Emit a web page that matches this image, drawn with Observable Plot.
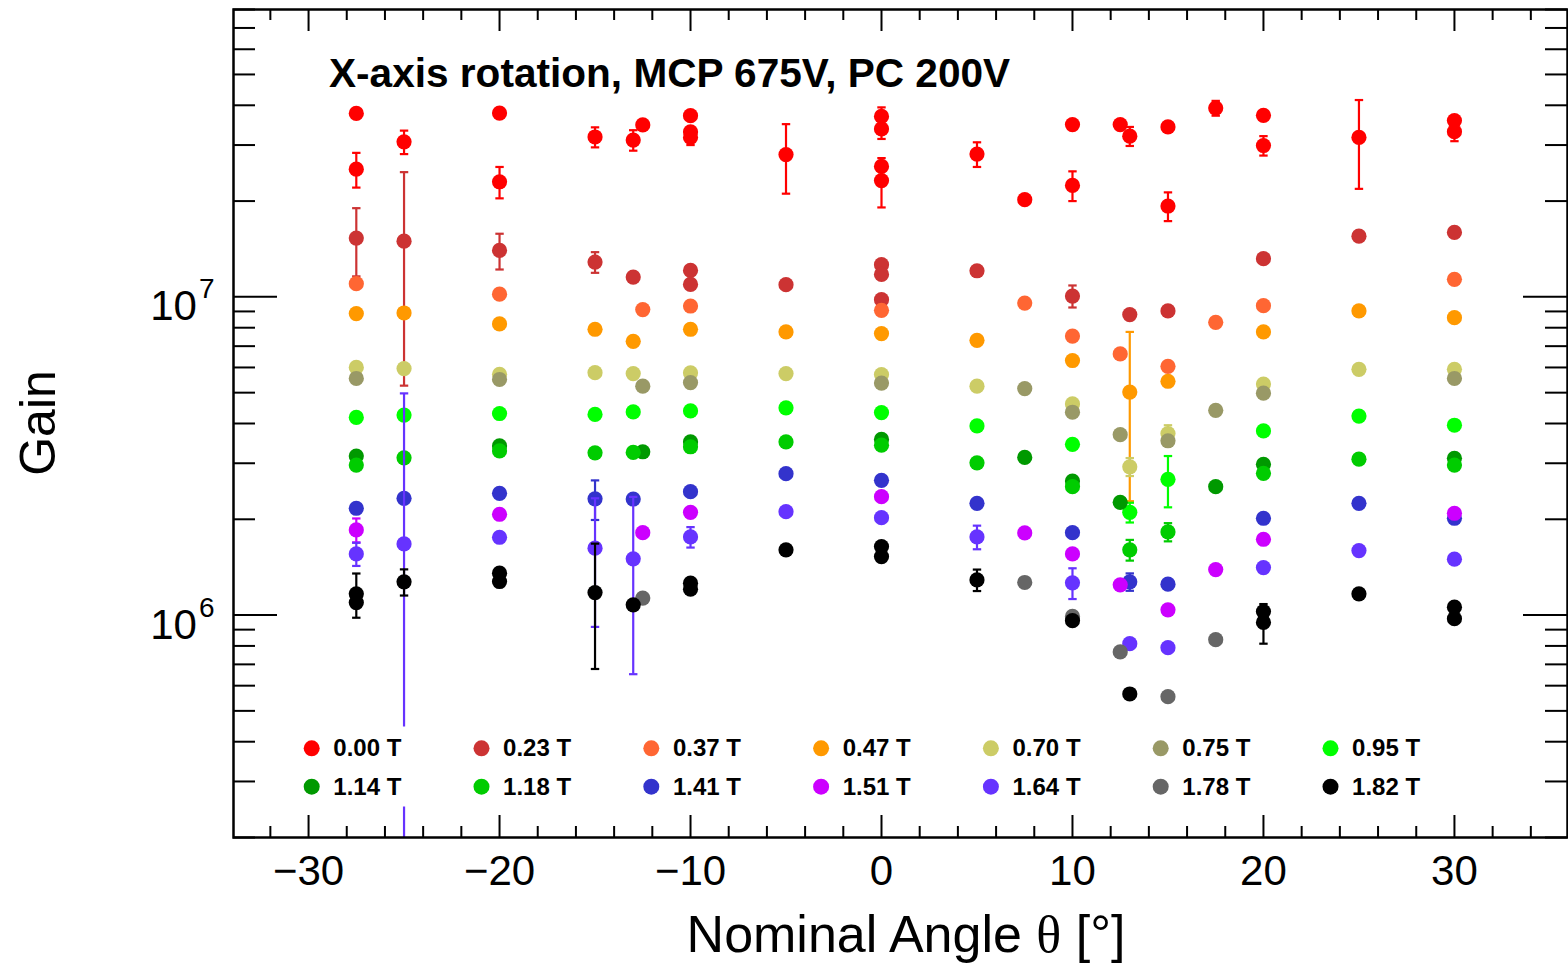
<!DOCTYPE html>
<html><head><meta charset="utf-8">
<script src="https://cdn.jsdelivr.net/npm/d3@7"></script>
<script src="https://cdn.jsdelivr.net/npm/@observablehq/plot@0.6"></script>
<style>html,body{margin:0;padding:0;background:#fff;overflow:hidden}</style>
</head><body><div id="chart"></div>
<script>
// ---------- data ----------
const fieldLabels = ["0.00 T","0.23 T","0.37 T","0.47 T","0.70 T","0.75 T","0.95 T",
                     "1.14 T","1.18 T","1.41 T","1.51 T","1.64 T","1.78 T","1.82 T"];
const fieldColors = ["#ff0000","#cc3333","#ff6633","#ff9900","#cccc66","#999966","#00ff00",
                     "#009900","#00cc00","#3333cc","#cc00ff","#6633ff","#666666","#000000"];
// each entry: [nominal angle (deg), gain (x10^6), error (x10^6)]
const g000 = [[-27.5,37.7,0],[-27.5,25.2,3.15],[-25,30.7,2.6],[-20,37.8,0],[-20,23.0,2.6],[-15,31.8,2.3],
  [-13,31.1,2.3],[-12.5,34.7,0],[-10,37.1,0],[-10,33.0,0],[-10,31.7,1.7],[-5,28.0,6.9],[0,36.9,2.5],
  [0,33.7,2.35],[0,25.7,0],[0,23.2,4.1],[5,28.1,2.5],[7.5,20.2,0],[10,34.8,0],[10,22.4,2.4],[12.5,34.8,0],
  [13,32.0,2.2],[15,34.2,0],[15,19.3,2.0],[17.5,39.2,2.1],[20,37.2,0],[20,29.9,2.1],[25,31.7,9.85],
  [30,35.8,0],[30,33.05,2.2]];
const g023 = [[-27.5,15.3,3.7],[-25,14.96,9.7],[-20,13.99,1.8],[-15,12.86,0.96],[-13,11.54,0],[-10,12.11,0],
  [-10,10.94,0],[-5,10.92,0],[0,12.62,0],[0,11.76,0],[0,9.80,0],[5,12.08,0],[10,10.06,0.8],[13,8.80,0],
  [15,9.03,0],[20,13.18,0],[25,15.51,0],[30,15.94,0]];
const g037 = [[-27.5,11.0,0],[-20,10.2,0],[-12.5,9.12,0],[-10,9.36,0],[0,9.07,0],[7.5,9.56,0],[10,7.53,0],
  [12.5,6.62,0],[15,6.05,0],[17.5,8.32,0],[20,9.38,0],[30,11.35,0]];
const g047 = [[-27.5,8.86,0],[-25,8.9,0],[-20,8.22,0],[-15,7.91,0],[-13,7.25,0],[-10,7.91,0],[-5,7.76,0],
  [0,7.67,0],[5,7.3,0],[10,6.31,0],[13,5.02,2.74],[15,5.43,0],[20,7.76,0],[25,9.03,0],[30,8.6,0]];
const g070 = [[-27.5,6.0,0],[-25,5.95,0],[-20,5.71,0],[-15,5.78,0],[-13,5.74,0],[-10,5.77,0],[-5,5.74,0],
  [0,5.70,0],[5,5.24,0],[10,4.61,0],[13,2.925,0.19],[15,3.72,0.23],[20,5.32,0],[25,5.92,0],[30,5.92,0]];
const g075 = [[-27.5,5.54,0],[-20,5.5,0],[-12.5,5.24,0],[-10,5.38,0],[0,5.36,0],[7.5,5.15,0],[10,4.34,0],
  [12.5,3.69,0],[15,3.53,0],[17.5,4.4,0],[20,4.98,0],[30,5.54,0]];
const g095 = [[-27.5,4.18,0],[-25,4.25,0],[-20,4.30,0],[-15,4.27,0],[-13,4.35,0],[-10,4.38,0],[-5,4.48,0],
  [0,4.33,0],[5,3.93,0],[10,3.44,0],[13,2.104,0.15],[15,2.671,0.49],[20,3.79,0],[25,4.22,0],[30,3.95,0]];
const g114 = [[-27.5,3.16,0],[-20,3.40,0],[-12.5,3.26,0],[-10,3.50,0],[0,3.565,0],[7.5,3.13,0],[10,2.638,0],
  [12.5,2.262,0],[17.5,2.532,0],[20,2.977,0],[30,3.108,0]];
const g118 = [[-27.5,2.96,0],[-25,3.12,0],[-20,3.28,0],[-15,3.236,0],[-13,3.245,0],[-10,3.38,0],[-5,3.50,0],
  [0,3.42,0],[5,3.01,0],[10,2.532,0],[13,1.603,0.12],[15,1.825,0.12],[20,2.789,0],[25,3.09,0],[30,2.96,0]];
const g141 = [[-27.5,2.166,0],[-25,2.328,0],[-20,2.414,0],[-15,2.32,0.33],[-13,2.316,0],[-10,2.442,0],
  [-5,2.782,0],[0,2.651,0],[5,2.245,0],[10,1.816,0],[13,1.272,0.08],[15,1.251,0],[20,2.015,0],[25,2.245,0],
  [30,2.015,0]];
const g151 = [[-27.5,1.852,0.16],[-20,2.074,0],[-12.5,1.816,0],[-10,2.104,0],[0,2.355,0],[7.5,1.812,0],
  [10,1.557,0],[12.5,1.245,0],[15,1.039,0],[17.5,1.39,0],[20,1.731,0],[30,2.089,0]];
const g164 = [[-27.5,1.557,0.13],[-25,1.674,3.3],[-20,1.756,0],[-15,1.623,0.705],[-13,1.502,0.85],
  [-10,1.76,0.13],[-5,2.113,0],[0,2.024,0],[5,1.76,0.15],[10,1.263,0.14],[13,0.813,0],[15,0.79,0],
  [20,1.41,0],[25,1.595,0],[30,1.499,0]];
const g178 = [[-12.5,1.131,0],[7.5,1.266,0],[10,0.99,0],[12.5,0.766,0],[15,0.554,0],[17.5,0.837,0]];
const g182 = [[-27.5,1.166,0.185],[-27.5,1.095,0],[-25,1.272,0.12],[-20,1.354,0],[-20,1.275,0],
  [-15,1.177,0.5],[-13,1.077,0],[-10,1.26,0],[-10,1.206,0],[-5,1.603,0],[0,1.642,0],[0,1.527,0],
  [5,1.29,0.1],[10,0.96,0],[13,0.565,0],[20,1.026,0],[20,0.948,0.135],[25,1.166,0],[30,1.059,0],[30,0.974,0]];
const seriesValues = [g000,g023,g037,g047,g070,g075,g095,g114,g118,g141,g151,g164,g178,g182];

const xDomain = [-33.93, 35.92];
const yDomain = [2e5, 8e7];
const xMajorTicks = [-30,-20,-10,0,10,20,30];
const xMinorTicks = [-32,-28,-26,-24,-22,-18,-16,-14,-12,-8,-6,-4,-2,2,4,6,8,12,14,16,18,22,24,26,28,32,34];
const yMajorTicks = [1e6, 1e7];
const yMinorTicks = [2e5,3e5,4e5,5e5,6e5,7e5,8e5,9e5,2e6,3e6,4e6,5e6,6e6,7e6,8e6,9e6,2e7,3e7,4e7,5e7,6e7,7e7,8e7];
const yTickLabels = ["10^6","10^7"];

const titleText = "X-axis rotation, MCP 675V, PC 200V";
const xTitle = ["Nominal Angle ", "\u03b8", " [\u00b0]"];
const yTitle = "Gain";

// ---------- layout ----------
const W = 1568, H = 968;
const mL = 233, mR = 1, mT = 9, mB = 131;
const frameW = W - mL - mR, frameH = H - mT - mB;
const FONT = "'Liberation Sans', Arial, Helvetica, sans-serif";

const capSymbol = { draw(ctx, size) { const r = Math.sqrt(size / Math.PI); ctx.moveTo(-r, 0); ctx.lineTo(r, 0); } };

const marks = [];
seriesValues.forEach((arr, i) => {
  const color = fieldColors[i];
  const rows = arr.map(([a, g, e]) => ({a, g: g * 1e6, e: e * 1e6}));
  const errs = rows.filter(d => d.e > 0);
  marks.push(Plot.ruleX(errs, {x: "a", y1: d => Math.max(d.g - d.e, 1e3), y2: d => d.g + d.e,
    stroke: color, strokeWidth: 2.2, clip: true}));
  marks.push(Plot.dot(errs, {x: "a", y: d => d.g + d.e, symbol: capSymbol, r: 4.2, fill: "none",
    stroke: color, strokeWidth: 2.2}));
  marks.push(Plot.dot(errs.filter(d => d.g - d.e > yDomain[0]), {x: "a", y: d => d.g - d.e,
    symbol: capSymbol, r: 4.2, fill: "none", stroke: color, strokeWidth: 2.2}));
  marks.push(Plot.dot(rows, {x: "a", y: "g", r: 7.6, fill: color, stroke: "none"}));
});

// ROOT style inward ticks on all four sides
marks.push(
  Plot.tickX(xMajorTicks, {x: d => d, insetTop: frameH - 22, stroke: "black", strokeWidth: 2}),
  Plot.tickX(xMinorTicks, {x: d => d, insetTop: frameH - 11, stroke: "black", strokeWidth: 2}),
  Plot.tickX(xMajorTicks, {x: d => d, insetBottom: frameH - 22, stroke: "black", strokeWidth: 2}),
  Plot.tickX(xMinorTicks, {x: d => d, insetBottom: frameH - 11, stroke: "black", strokeWidth: 2}),
  Plot.tickY(yMajorTicks, {y: d => d, insetRight: frameW - 44, stroke: "black", strokeWidth: 2}),
  Plot.tickY(yMinorTicks, {y: d => d, insetRight: frameW - 22, stroke: "black", strokeWidth: 2}),
  Plot.tickY(yMajorTicks, {y: d => d, insetLeft: frameW - 44, stroke: "black", strokeWidth: 2}),
  Plot.tickY(yMinorTicks, {y: d => d, insetLeft: frameW - 22, stroke: "black", strokeWidth: 2}),
  Plot.axisX(xMajorTicks, {anchor: "bottom", tickSize: 0, tickPadding: 18, fontSize: 42, label: null,
    tickFormat: d => d < 0 ? "\u2212" + Math.abs(d) : String(d)}),
  Plot.axisY(yMajorTicks, {anchor: "left", tickSize: 0, tickPadding: 19, fontSize: 42, dy: 10, label: null,
    tickFormat: (d, i) => yTickLabels[yMajorTicks.indexOf(d)]}),
  Plot.frame({stroke: "black", strokeWidth: 2.5})
);

const svg = Plot.plot({
  width: W, height: H,
  marginLeft: mL, marginRight: mR, marginTop: mT, marginBottom: mB,
  style: {fontFamily: FONT, background: "white", color: "black"},
  x: {domain: xDomain, axis: null},
  y: {type: "log", domain: yDomain, axis: null},
  marks
});

// superscripts for the log tick labels
const NS = "http://www.w3.org/2000/svg";
svg.querySelectorAll('g[aria-label="y-axis tick label"] text').forEach(t => {
  const [base, exp] = t.textContent.split("^");
  t.textContent = "";
  const t1 = document.createElementNS(NS, "tspan"); t1.textContent = base;
  const t2 = document.createElementNS(NS, "tspan"); t2.textContent = exp;
  t2.setAttribute("dy", "-22"); t2.setAttribute("dx", "2"); t2.setAttribute("font-size", "28");
  t.append(t1, t2);
});

const s = d3.select(svg);
// title
s.append("text").attr("x", 329).attr("y", 87).attr("text-anchor", "start").attr("font-family", FONT)
  .attr("font-weight", "bold").attr("font-size", 40.6).attr("fill", "black").text(titleText);
// axis titles
const xt = s.append("text").attr("x", 906).attr("y", 952).attr("text-anchor", "middle")
  .attr("font-family", FONT).attr("font-size", 52).attr("fill", "black");
xt.append("tspan").text(xTitle[0]);
xt.append("tspan").attr("font-family", "'Liberation Serif', 'DejaVu Serif', serif").text(xTitle[1]);
xt.append("tspan").text(xTitle[2]);
s.append("text").attr("transform", "translate(55,423) rotate(-90)").attr("text-anchor", "middle")
  .attr("font-family", FONT).attr("font-size", 50).attr("fill", "black").text(yTitle);
// legend (white filled box, no border, as in ROOT TLegend)
const lg = s.append("g").attr("font-family", FONT).attr("font-weight", "bold").attr("font-size", 24)
  .attr("text-anchor", "start");
lg.append("rect").attr("x", 290).attr("y", 726.5).attr("width", 1245).attr("height", 80).attr("fill", "white");
fieldLabels.forEach((lab, i) => {
  const col = i % 7, row = Math.floor(i / 7);
  const cx = 311.7 + 169.8 * col, cy = 748.3 + 38.4 * row;
  lg.append("circle").attr("cx", cx).attr("cy", cy).attr("r", 8).attr("fill", fieldColors[i]);
  lg.append("text").attr("x", cx + 21.6).attr("y", cy + 8).attr("text-anchor", "start")
    .attr("fill", "black").text(lab);
});

document.getElementById("chart").append(svg);
</script>
</body></html>
